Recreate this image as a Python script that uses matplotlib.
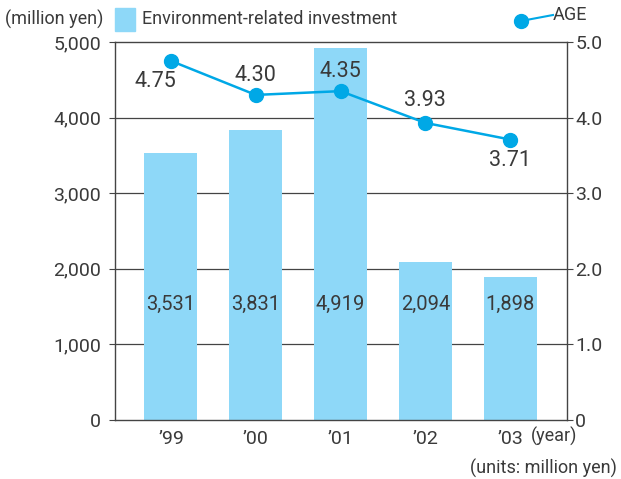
import matplotlib
matplotlib.use("Agg")
import matplotlib.pyplot as plt
import numpy as np

years = ["\u201999", "\u201900", "\u201901", "\u201902", "\u201903"]
investment = [3531, 3831, 4919, 2094, 1898]
age = [4.75, 4.30, 4.35, 3.93, 3.71]
inv_labels = ["3,531", "3,831", "4,919", "2,094", "1,898"]

bar_color = "#8ed8f8"
line_color = "#00a8e6"
txt = "#3a3a3a"

plt.rcParams["font.family"] = ["Roboto", "DejaVu Sans"]
plt.rcParams["font.size"] = 13

fig = plt.figure(figsize=(6.21, 4.79), dpi=100)
ax = fig.add_axes([115 / 621, 1 - 420 / 479, 452 / 621, 378 / 479])
x = np.arange(len(years))

# horizontal grid behind the bars
for g in range(1000, 5000, 1000):
    ax.axhline(g, color="#444444", lw=0.9, zorder=0)
ax.bar(x, investment, width=0.625, color=bar_color, zorder=2)
for xi, lab in zip(x, inv_labels):
    ax.text(xi, 1530, lab, ha="center", va="center", color=txt, fontsize=14.5, zorder=3)

ax.set_xlim(-0.66, 4.67)
ax.set_ylim(0, 5000)
ax.set_yticks(range(0, 5001, 1000))
ax.set_yticklabels(["0", "1,000", "2,000", "3,000", "4,000", "5,000"], color=txt, fontsize=14)
ax.set_xticks(x)
ax.set_xticklabels(years, color=txt, fontsize=14)
ax.tick_params(axis="x", length=0, pad=7)
ax.tick_params(axis="y", length=4, width=0.8, color="#444444", pad=6)
for sp in ax.spines.values():
    sp.set_color("#444444")
    sp.set_linewidth(1.0)

ax2 = ax.twinx()
ax2.set_ylim(0, 5)
ax2.set_yticks(np.arange(0, 5.01, 1))
ax2.set_yticklabels(["0", "1.0", "2.0", "3.0", "4.0", "5.0"], color=txt, fontsize=14)
ax2.tick_params(axis="y", length=4, width=0.8, color="#444444", pad=2)
for sp in ax2.spines.values():
    sp.set_visible(False)
ax2.plot(x, age, color=line_color, lw=1.8, marker="o", markersize=10, zorder=5)

# value labels for the AGE line
offsets = [(-0.18, -0.27), (0, 0.26), (0, 0.26), (0, 0.29), (0, -0.28)]
for xi, v, (dx, dy) in zip(x, age, offsets):
    ax2.text(xi + dx, v + dy, "%.2f" % v, ha="center", va="center", color=txt, fontsize=15.5)

# legend area across the top
fig.text(5 / 621, 1 - 19 / 479, "(million yen)", ha="left", va="center", color=txt, fontsize=13)
fig.patches.append(plt.Rectangle((115 / 621, 1 - 31 / 479), 20 / 621, 23 / 479,
                                 transform=fig.transFigure, color=bar_color, figure=fig))
fig.text(142 / 621, 1 - 19 / 479, "Environment-related investment", ha="left", va="center",
         color=txt, fontsize=13)
fig.lines.append(plt.Line2D([521 / 621, 553 / 621], [1 - 21 / 479, 1 - 15 / 479],
                            transform=fig.transFigure, color=line_color, lw=1.5))
fig.lines.append(plt.Line2D([521 / 621], [1 - 21 / 479], transform=fig.transFigure,
                            color=line_color, marker="o", markersize=10))
fig.text(553 / 621, 1 - 15 / 479, "AGE", ha="left", va="center", color=txt, fontsize=13)

fig.text(577 / 621, 1 - 436 / 479, "(year)", ha="right", va="center", color=txt, fontsize=13)
fig.text(617 / 621, 1 - 468 / 479, "(units: million yen)", ha="right", va="center",
         color=txt, fontsize=13)

fig.savefig("out.png", dpi=100)
